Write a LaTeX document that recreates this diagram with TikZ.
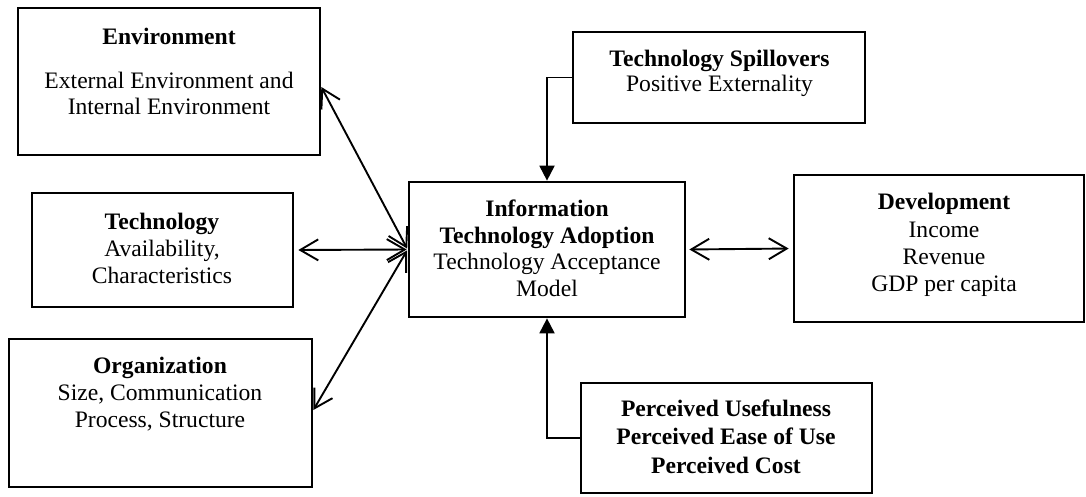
\documentclass[tikz,border=0pt]{standalone}
\usepackage{fontspec}
\setmainfont{Liberation Serif}
\usetikzlibrary{arrows.meta}
\begin{document}
\begin{tikzpicture}[x=1pt,y=-1pt,
  box/.style={draw=black,line width=2.7pt,rectangle,inner sep=0pt},
  hd/.style={font=\fontsize{23.6}{27}\selectfont\bfseries,anchor=base,inner sep=0pt},
  tx/.style={font=\fontsize{23.6}{27}\selectfont,anchor=base,inner sep=0pt},
  biarrow/.style={line width=1.9pt,{Straight Barb[length=18pt,width=21pt]}-{Straight Barb[length=18pt,width=21pt]}},
  farrow/.style={line width=1.9pt,-{Triangle[length=15pt,width=15pt]}}]
\useasboundingbox (0,0) rectangle (1086,496);
% boxes
\node[box,minimum width=302pt,minimum height=147pt] (env) at (169,81.5) {};
\node[box,minimum width=261pt,minimum height=114pt] (tech) at (162.5,250) {};
\node[box,minimum width=303pt,minimum height=148pt] (org) at (160.5,413) {};
\node[box,minimum width=276pt,minimum height=135pt] (adopt) at (547,249.5) {};
\node[box,minimum width=292pt,minimum height=91pt] (spill) at (719,77.5) {};
\node[box,minimum width=291pt,minimum height=110pt] (perc) at (726.5,438) {};
\node[box,minimum width=290pt,minimum height=147pt] (dev) at (939,248.5) {};
% texts
\node[hd] (envh) at (169,44) {Environment};
\node[tx] (env1) at (169,88) {External Environment and};
\node[tx] (env2) at (169,114) {Internal Environment};
\node[hd] (techh) at (162,229) {Technology};
\node[tx] (tech1) at (162,256) {Availability,};
\node[tx] (tech2) at (162,283) {Characteristics};
\node[hd] (orgh) at (160,373) {Organization};
\node[tx] (org1) at (160,400) {Size, Communication};
\node[tx] (org2) at (160,427) {Process, Structure};
\node[hd] (adh1) at (547,216) {Information};
\node[hd] (adh2) at (547,243) {Technology Adoption};
\node[tx] (ad1) at (547,269) {Technology Acceptance};
\node[tx] (ad2) at (547,296) {Model};
\node[hd] (spillh) at (719.5,66) {Technology Spillovers};
\node[tx] (spill1) at (719.5,91) {Positive Externality};
\node[hd] (perc1) at (726,416) {Perceived Usefulness};
\node[hd] (perc2) at (726,444) {Perceived Ease of Use};
\node[hd] (perc3) at (726,473) {Perceived Cost};
\node[hd] (devh) at (944,209) {Development};
\node[tx] (dev1) at (944,237) {Income};
\node[tx] (dev2) at (944,264) {Revenue};
\node[tx] (dev3) at (944,291) {GDP per capita};
% connectors
\draw[biarrow,shorten >=1pt] ([yshift=-5.5pt]env.east) -- (adopt.west);
\draw[biarrow,shorten <=4pt,shorten >=1pt] (tech.east) -- (adopt.west);
\draw[biarrow,shorten >=1pt] ([yshift=3pt]org.east) -- (adopt.west);
\draw[biarrow,shorten <=3pt,shorten >=4pt] (adopt.east) -- (dev.west);
\draw[farrow] (spill.west) -| (adopt.north);
\draw[farrow] (perc.west) -| (adopt.south);
\end{tikzpicture}
\end{document}
